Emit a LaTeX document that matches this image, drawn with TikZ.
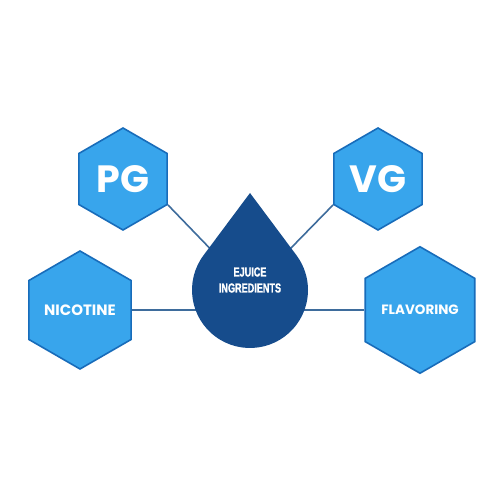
\documentclass[tikz,border=0pt]{standalone}
\usepackage{fontspec}
\setmainfont{Poppins}
\newfontfamily\narrowfont[FakeStretch=0.7,UprightFont=* Bold,FakeBold=1.2]{Liberation Sans}
\usetikzlibrary{shapes.geometric,calc}
\definecolor{hexblue}{RGB}{56,165,236}
\definecolor{hexedge}{RGB}{24,108,186}
\definecolor{dropblue}{RGB}{22,76,140}
\definecolor{linkblue}{RGB}{62,108,156}
\tikzset{
  hexa/.style={regular polygon, regular polygon sides=6, shape border rotate=30,
    fill=hexblue, draw=hexedge, line width=1.6pt, inner sep=0pt, text=white},
  link/.style={draw=linkblue, line width=1.6pt}
}
\begin{document}
\begin{tikzpicture}[x=1pt,y=1pt]
\useasboundingbox[fill=white] (0,0) rectangle (500,500);
% ingredients
\node[hexa, minimum size=102pt, font=\fontsize{38}{38}\selectfont\bfseries] (PG) at (123,321) {PG};
\node[hexa, minimum size=102pt, font=\fontsize{38}{38}\selectfont\bfseries] (VG) at (378,321) {VG};
\node[hexa, minimum size=118pt, font=\fontsize{15}{15}\selectfont\bfseries] (Nicotine) at (80,190) {NICOTINE};
\node[hexa, minimum size=118pt, font=\fontsize{13.5}{14}\selectfont\bfseries] (Flavoring) at (420,190) {FLAVORING};
% drop
\node[circle, minimum size=116pt, inner sep=0pt] (Drop) at (250,210) {};
\draw[link] (PG.-30) -- (Drop);
\draw[link] (VG.-150) -- (Drop);
\draw[link] (Nicotine.east) -- (Nicotine.east -| Drop.center);
\draw[link] (Flavoring.west) -- (Flavoring.west -| Drop.center);
\fill[dropblue] (250,307) -- ($(Drop.center)+(143.3:58)$) arc[start angle=143.3, end angle=396.7, radius=58] -- cycle;
\node[text=white, align=center, font=\narrowfont\fontsize{13}{16}\selectfont] (Label) at (250,220) {EJUICE\\INGREDIENTS};
\end{tikzpicture}
\end{document}
